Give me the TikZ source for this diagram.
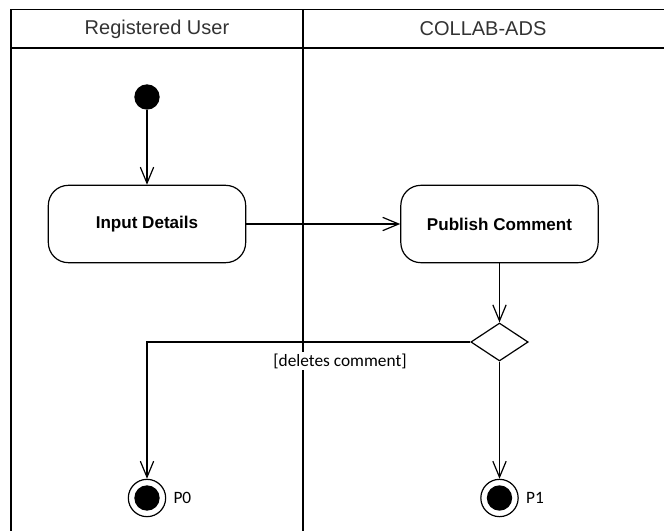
\documentclass[tikz,border=0pt]{standalone}
\usepackage{fontspec}
\setmainfont{Liberation Sans}
\newfontfamily\carlito{Carlito}
\usetikzlibrary{positioning}
\usetikzlibrary{arrows.meta}
\usetikzlibrary{shapes.geometric}
\tikzset{>={Straight Barb[length=12pt,width=10pt]}}
\tikzset{act/.style={draw, rounded corners=15pt, minimum width=148pt, minimum height=58pt, inner sep=0pt, font=\bfseries\fontsize{12.8}{15}\selectfont}}
\tikzset{init/.style={circle, fill=black, minimum size=19pt, inner sep=0pt}}
\tikzset{fin/.style={circle, draw, minimum size=28pt, inner sep=0pt, path picture={\fill (path picture bounding box.center) circle (9.5pt);}}}
\tikzset{dec/.style={diamond, draw, minimum width=43pt, minimum height=28.5pt, inner sep=0pt}}
\tikzset{lane/.style={font=\fontsize{15}{18}\selectfont, text=black!80}}
\tikzset{ed/.style={font=\carlito\fontsize{13}{15}\selectfont, inner sep=1pt}}

\begin{document}
\begin{tikzpicture}[x=0.75pt, y=-0.75pt, line width=0.9pt]
\useasboundingbox (0,0) rectangle (664,531);

% swimlanes
\draw[line width=1.1pt] (11,531) -- (11,9.5) -- (664,9.5);
\draw[line width=1.1pt] (11,48) -- (664,48);
\draw[line width=1.1pt] (303,9.5) -- (303,531);
\node[lane] (user) at (157,29) {Registered User};
\node[lane] (sys) at (483,29) {COLLAB-ADS};

% activities
\node[init] (start) at (147,97) {};
\node[act] (inp) at (147,224) {Input Details};
\node[act] (pub) at (499.5,224) {Publish Comment};
\node[dec] (choice) at (499.5,342) {};
\node[fin] (p0) at (147,498) {};
\node[fin] (p1) at (499.5,498) {};
\node[ed, right=4pt of p0] (l0) {P0};
\node[ed, right=4pt of p1] (l1) {P1};

\draw[->] (start) -- (inp);
\draw[->] (inp) -- (pub);
\draw[->] (pub) -- (choice);
\draw[->] (choice.west) -| (p0);
\draw[->] (choice) -- (p1);

\node[ed, fill=white] (cond) at (340,361) {[deletes comment]};

\end{tikzpicture}
\end{document}
